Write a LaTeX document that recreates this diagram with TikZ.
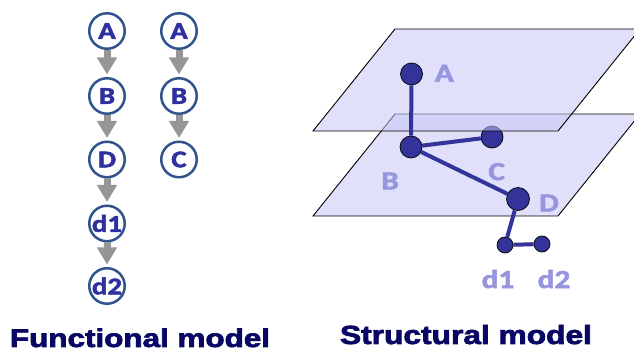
\documentclass[tikz,border=0pt]{standalone}
\usepackage{fontspec}
\usetikzlibrary{arrows.meta}
\newfontfamily\titlefont[BoldFeatures={FakeBold=2.5}]{Liberation Sans}
\newfontfamily\labelfont[BoldFeatures={FakeBold=2}]{Carlito}

\definecolor{ringblue}{RGB}{47,85,140}
\definecolor{lettblue}{RGB}{48,48,160}
\definecolor{arrowgray}{RGB}{150,150,150}
\definecolor{planefill}{RGB}{200,200,246}
\definecolor{ballblue}{RGB}{51,51,153}
\definecolor{labelpurple}{RGB}{150,150,222}
\definecolor{titlenavy}{RGB}{8,8,100}

\newcommand\stretchx[1]{\scalebox{1.2}[1]{#1}}

\tikzset{
  fnode/.style={circle, draw=ringblue, line width=2.5pt, fill=white,
    minimum size=35.5pt, inner sep=0pt, text=lettblue,
    font=\labelfont\bfseries\fontsize{24}{24}\selectfont},
  funarrow/.style={draw=arrowgray, line width=7pt,
    -{Triangle[width=19pt,length=17pt]}, shorten >=2.5pt},
  plane/.style={draw=black, line width=0.9pt, fill=planefill, fill opacity=0.55},
  ball/.style={circle, fill=ballblue, draw=black, line width=0.7pt,
    minimum size=22pt, inner sep=0pt},
  smallball/.style={ball, minimum size=16pt},
  bond/.style={draw=ballblue, line width=4pt},
  slabel/.style={text=labelpurple, inner sep=0pt,
    font=\labelfont\bfseries\fontsize{26}{26}\selectfont},
  title/.style={text=titlenavy, inner sep=0pt, anchor=base}
}

\begin{document}
\begin{tikzpicture}[x=1pt, y=-1pt]
\clip (0,0) rectangle (634,352);
\fill[white] (0,0) rectangle (634,352);

% ---- functional model: two call chains ----
\node[fnode] (fa1) at (107,31)    {\stretchx{A}};
\node[fnode] (fb1) at (107,96)    {\stretchx{B}};
\node[fnode] (fd1) at (107,159.5) {\stretchx{D}};
\node[fnode] (fx1) at (107,223.5) {\stretchx{d1}};
\node[fnode] (fx2) at (107,286)   {\stretchx{d2}};

\node[fnode] (fa2) at (179,31)    {\stretchx{A}};
\node[fnode] (fb2) at (179,96)    {\stretchx{B}};
\node[fnode] (fc2) at (179,159.5) {\stretchx{C}};

\draw[funarrow] (fa1) -- (fb1);
\draw[funarrow] (fb1) -- (fd1);
\draw[funarrow] (fd1) -- (fx1);
\draw[funarrow] (fx1) -- (fx2);
\draw[funarrow] (fa2) -- (fb2);
\draw[funarrow] (fb2) -- (fc2);

% ---- structural model: two stacked planes ----
\filldraw[plane] (395,114) -- (640,114) -- (558,216) -- (313,216) -- cycle;
\node[ball] (sc) at (492,137) {};
\filldraw[plane] (395,29) -- (640,29) -- (558,131) -- (313,131) -- cycle;

\node[ball] (sa) at (411.5,74) {};
\node[ball] (sb) at (411,147) {};
\node[ball, minimum size=23pt] (sd) at (518,199) {};
\node[smallball] (s1) at (505,245) {};
\node[smallball] (s2) at (542,244) {};

\draw[bond] (sa) -- (sb);
\draw[bond] (sb) -- (sc);
\draw[bond] (sb) -- (sd);
\draw[bond] (sd) -- (s1);
\draw[bond] (s1) -- (s2);

\node[slabel] (la) at (444.3,73.3) {\stretchx{A}};
\node[slabel] (lb) at (390,181)    {\stretchx{B}};
\node[slabel] (lc) at (496.7,171.7){\stretchx{C}};
\node[slabel] (ld) at (549,203)    {\stretchx{D}};
\node[slabel] (l1) at (498,279)    {\stretchx{d1}};
\node[slabel] (l2) at (554,279)    {\stretchx{d2}};

% ---- captions ----
\node[title] (tf) at (140,347) {\resizebox{260pt}{18.5pt}{\titlefont\bfseries Functional model}};
\node[title] (ts) at (466,344) {\resizebox{252pt}{19pt}{\titlefont\bfseries Structural model}};
\end{tikzpicture}
\end{document}
